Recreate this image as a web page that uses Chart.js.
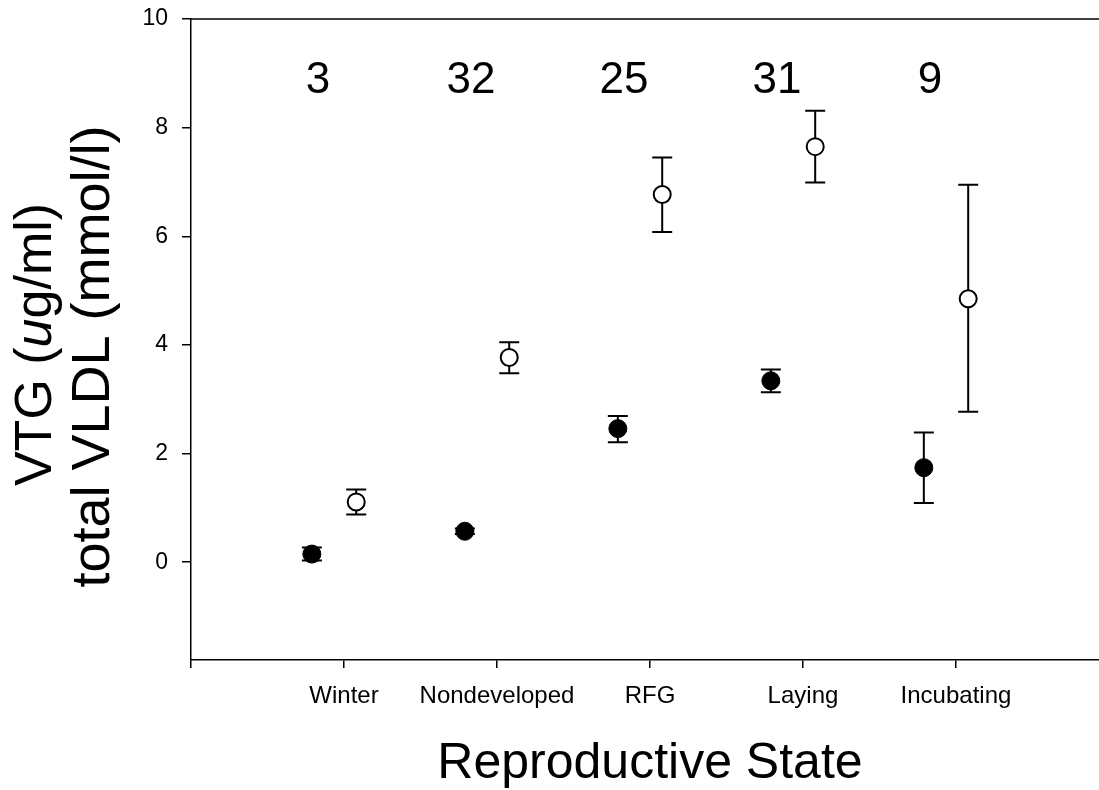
<!DOCTYPE html>
<html>
<head>
<meta charset="utf-8">
<script src="https://cdn.jsdelivr.net/npm/chart.js@4/dist/chart.umd.min.js"></script>
<style>
  html, body { margin: 0; padding: 0; background: #fff; }
  #wrap { width: 1099px; height: 790px; }
</style>
</head>
<body>
<div id="wrap"><canvas id="stateChart" width="1099" height="790"></canvas></div>
<script>
// reproductive states along the x axis
var categories = ['Winter', 'Nondeveloped', 'RFG', 'Laying', 'Incubating'];
// sample size printed above each group
var sampleSizes = [3, 32, 25, 31, 9];

// filled symbols: total VLDL (mmol/l), mean with error range
var vldlMean = [0.15, 0.57, 2.46, 3.34, 1.74];
var vldlLow  = [0.03, 0.52, 2.21, 3.13, 1.09];
var vldlHigh = [0.27, 0.62, 2.69, 3.55, 2.39];

// open symbols: VTG (ug/ml), mean with error range
var vtgMean = [1.11, 3.77, 6.77, 7.65, 4.85];
var vtgLow  = [0.88, 3.48, 6.08, 6.99, 2.77];
var vtgHigh = [1.34, 4.05, 7.45, 8.31, 6.95];

var yTicks = [0, 2, 4, 6, 8, 10];

var FONT = "'Liberation Sans', Arial, sans-serif";

function points(mean, low, high, shift) {
  return mean.map(function(m, i) {
    return { x: i + 1 + shift, y: m, lo: low[i], hi: high[i] };
  });
}

// vertical error bars with caps, drawn under the symbols
var errorBars = {
  id: 'errorBars',
  beforeDatasetsDraw: function(chart) {
    var ctx = chart.ctx, x = chart.scales.x, y = chart.scales.y;
    ctx.save();
    ctx.strokeStyle = '#000';
    ctx.lineWidth = 2;
    chart.data.datasets.forEach(function(ds) {
      ds.data.forEach(function(p) {
        var px = x.getPixelForValue(p.x);
        var top = y.getPixelForValue(p.hi), bot = y.getPixelForValue(p.lo);
        ctx.beginPath();
        ctx.moveTo(px, top); ctx.lineTo(px, bot);
        ctx.moveTo(px - 10, top); ctx.lineTo(px + 10, top);
        ctx.moveTo(px - 10, bot); ctx.lineTo(px + 10, bot);
        ctx.stroke();
      });
    });
    ctx.restore();
  }
};

// frame line on top, sample sizes and the axis titles
var decorations = {
  id: 'decorations',
  afterDraw: function(chart) {
    var ctx = chart.ctx, area = chart.chartArea;
    var x = chart.scales.x, y = chart.scales.y;
    ctx.save();
    ctx.strokeStyle = '#000';
    ctx.lineWidth = 1.5;
    ctx.beginPath();
    ctx.moveTo(area.left, area.top);
    ctx.lineTo(area.right, area.top);
    ctx.stroke();

    ctx.fillStyle = '#000';
    ctx.textAlign = 'center';
    ctx.textBaseline = 'alphabetic';
    ctx.font = '44px ' + FONT;
    sampleSizes.forEach(function(n, i) {
      ctx.fillText(String(n), x.getPixelForValue(i + 1 - 0.17), y.getPixelForValue(8.64));
    });

    ctx.font = '50px ' + FONT;
    ctx.fillText('Reproductive State', x.getPixelForValue(3), 778);

    // y title, two rotated lines; the "u" in ug/ml is italic
    var mid = (area.top + area.bottom) / 2;
    ctx.save();
    ctx.translate(51, mid + 5);
    ctx.rotate(-Math.PI / 2);
    var parts = [['VTG (', ''], ['u', 'italic '], ['g/ml)', '']];
    var total = 0;
    parts.forEach(function(p) { ctx.font = p[1] + '52px ' + FONT; total += ctx.measureText(p[0]).width; });
    var cx = -total / 2;
    ctx.textAlign = 'left';
    parts.forEach(function(p) {
      ctx.font = p[1] + '52px ' + FONT;
      ctx.fillText(p[0], cx, 0);
      cx += ctx.measureText(p[0]).width;
    });
    ctx.restore();

    ctx.translate(109, mid + 17);
    ctx.rotate(-Math.PI / 2);
    ctx.textAlign = 'center';
    ctx.font = '54px ' + FONT;
    ctx.fillText('total VLDL (mmol/l)', 0, 0);
    ctx.restore();
  }
};

new Chart(document.getElementById('stateChart').getContext('2d'), {
  type: 'scatter',
  data: {
    datasets: [{
      label: 'total VLDL',
      data: points(vldlMean, vldlLow, vldlHigh, -0.21),
      pointRadius: 9,
      pointHoverRadius: 9,
      pointBackgroundColor: '#000',
      pointBorderColor: '#000',
      pointBorderWidth: 1
    }, {
      label: 'VTG',
      data: points(vtgMean, vtgLow, vtgHigh, 0.08),
      pointRadius: 8.5,
      pointHoverRadius: 8.5,
      pointBackgroundColor: '#fff',
      pointBorderColor: '#000',
      pointBorderWidth: 2
    }]
  },
  options: {
    responsive: false,
    animation: false,
    layout: { autoPadding: false, padding: { top: 19, right: 0, left: 0, bottom: 0 } },
    plugins: {
      legend: { display: false },
      tooltip: { enabled: false }
    },
    scales: {
      x: {
        type: 'linear',
        min: 0,
        max: 5.935,
        afterBuildTicks: function(scale) {
          scale.ticks = [0, 1, 2, 3, 4, 5].map(function(v) { return { value: v }; });
        },
        afterFit: function(scale) {
          scale.height = 130;
          scale.paddingLeft = 0;
          scale.paddingRight = 0;
        },
        grid: { drawOnChartArea: false, color: '#000', lineWidth: 1.5, tickLength: 8 },
        border: { color: '#000', width: 1.5 },
        ticks: {
          color: '#000',
          padding: 14,
          maxRotation: 0,
          autoSkip: false,
          font: { family: FONT, size: 24 },
          callback: function(v) { return categories[v - 1] || ''; }
        }
      },
      y: {
        min: -1.8,
        max: 10,
        afterBuildTicks: function(scale) {
          scale.ticks = yTicks.map(function(v) { return { value: v }; });
        },
        afterFit: function(scale) {
          scale.width = 191;
          scale.paddingTop = 0;
          scale.paddingBottom = 0;
        },
        grid: { drawOnChartArea: false, color: '#000', lineWidth: 1.5, tickLength: 9 },
        border: { color: '#000', width: 1.5 },
        ticks: {
          color: '#000',
          padding: 14,
          font: { family: FONT, size: 23 }
        }
      }
    }
  },
  plugins: [errorBars, decorations]
});
</script>
</body>
</html>
